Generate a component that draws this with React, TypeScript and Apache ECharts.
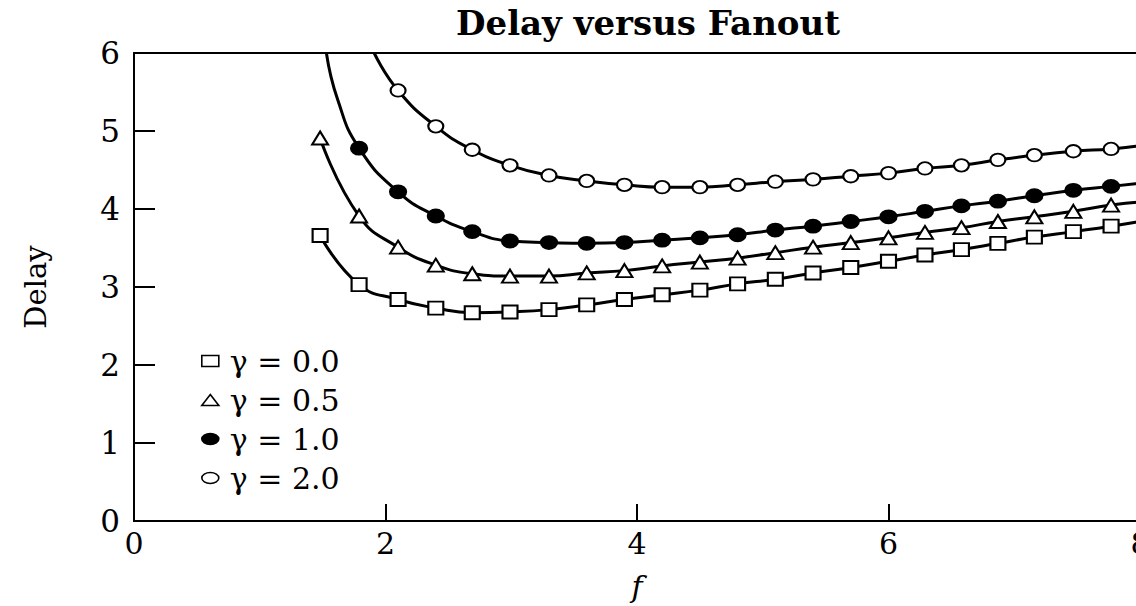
import React, { useEffect, useRef } from "react";
import * as echarts from "echarts";

// Fanout values at which the markers are drawn
const F = [
  1.48, 1.79, 2.1, 2.4, 2.69, 2.99, 3.3, 3.6, 3.9, 4.2, 4.5,
  4.8, 5.1, 5.4, 5.7, 6.0, 6.29, 6.58, 6.87, 7.16, 7.47, 7.77,
];

// Delay for each gamma (null = no marker at that fanout)
const DELAY_G00 = [
  3.66, 3.03, 2.84, 2.73, 2.67, 2.68, 2.71, 2.77, 2.84, 2.9, 2.96,
  3.04, 3.1, 3.18, 3.25, 3.33, 3.41, 3.48, 3.56, 3.64, 3.71, 3.78,
];
const DELAY_G05 = [
  4.91, 3.91, 3.51, 3.28, 3.17, 3.14, 3.14, 3.18, 3.21, 3.27, 3.32,
  3.37, 3.44, 3.51, 3.57, 3.63, 3.7, 3.76, 3.84, 3.9, 3.97, 4.05,
];
const DELAY_G10 = [
  null, 4.78, 4.22, 3.91, 3.71, 3.59, 3.57, 3.56, 3.57, 3.6, 3.63,
  3.67, 3.73, 3.78, 3.84, 3.9, 3.97, 4.04, 4.1, 4.17, 4.24, 4.29,
];
const DELAY_G20 = [
  null, null, 5.52, 5.06, 4.76, 4.56, 4.43, 4.36, 4.31, 4.28, 4.28,
  4.31, 4.35, 4.38, 4.42, 4.46, 4.52, 4.56, 4.63, 4.69, 4.74, 4.77,
];

// Curve-only points (no marker): where the curves leave the top frame and the right edge
const CURVE_START_G00: number[][] = [];
const CURVE_START_G05: number[][] = [];
const CURVE_START_G10 = [
  [1.53, 6.0],
  [1.62, 5.4],
];
const CURVE_START_G20 = [[1.91, 6.0]];
const CURVE_END_F = 8.0;
const CURVE_END_DELAY = [3.84, 4.09, 4.33, 4.81];

const SERIES_NAMES = ["γ = 0.0", "γ = 0.5", "γ = 1.0", "γ = 2.0"];

const TITLE = "Delay versus Fanout";
const X_NAME = "f";
const Y_NAME = "Delay";

const FONT = "DejaVu Serif";
const ELLIPSE = "path://M0,6A8,6,0,1,0,16,6A8,6,0,1,0,0,6Z";

// The figure is cropped on the right: the drawing area is wider than the window
const CANVAS_W = 1170;
const CANVAS_H = 606;

export default function App() {
  const ref = useRef<HTMLDivElement>(null);

  useEffect(() => {
    if (!ref.current) return;
    const chart = echarts.init(ref.current, undefined, { renderer: "svg" });

    const delays = [DELAY_G00, DELAY_G05, DELAY_G10, DELAY_G20];
    const starts = [CURVE_START_G00, CURVE_START_G05, CURVE_START_G10, CURVE_START_G20];
    const symbols = ["rect", "triangle", ELLIPSE, ELLIPSE];
    const sizes = [
      [15, 13],
      [16, 13],
      [16, 13],
      [15, 12.5],
    ];
    const fills = ["#fff", "#fff", "#000", "#fff"];
    const legendIcons = ["rect", "triangle", ELLIPSE, ELLIPSE];

    const series: any[] = [];
    delays.forEach((arr, i) => {
      const markers = F.map((f, k) => [f, arr[k]]).filter((p) => p[1] !== null);
      const curve = [...starts[i], ...markers, [CURVE_END_F, CURVE_END_DELAY[i]]];
      series.push({
        type: "line",
        name: "curve" + i,
        data: curve,
        smooth: 0.5,
        showSymbol: false,
        symbol: "none",
        silent: true,
        lineStyle: { color: "#000", width: 3 },
        z: 2,
      });
      series.push({
        type: "scatter",
        name: SERIES_NAMES[i],
        data: markers,
        symbol: symbols[i],
        symbolSize: sizes[i],
        symbolKeepAspect: false,
        silent: true,
        itemStyle: {
          color: fills[i],
          borderColor: "#000",
          borderWidth: 2,
          opacity: 1,
        },
        z: 3,
      });
    });

    chart.setOption({
      animation: false,
      backgroundColor: "#fff",
      title: {
        text: TITLE,
        left: 648,
        top: 6,
        padding: 0,
        textAlign: "center",
        textStyle: {
          fontFamily: FONT,
          fontWeight: "bold",
          fontSize: 34,
          color: "#000",
        },
      },
      legend: {
        orient: "vertical",
        left: 196,
        top: 341,
        itemWidth: 17,
        itemHeight: 11,
        itemGap: 9,
        symbolKeepAspect: false,
        selectedMode: false,
        itemStyle: { borderColor: "#000", borderWidth: 1.6 },
        textStyle: {
          fontFamily: FONT,
          fontSize: 30,
          lineHeight: 30,
          color: "#000",
          padding: [0, 0, 0, 6],
        },
        data: SERIES_NAMES.map((n, i) => ({ name: n, icon: legendIcons[i] })),
      },
      grid: {
        left: 134,
        right: CANVAS_W - 1140,
        top: 53,
        bottom: CANVAS_H - 523,
        show: true,
        borderColor: "#000",
        borderWidth: 2,
        backgroundColor: "transparent",
      },
      xAxis: {
        type: "value",
        min: 0,
        max: 8,
        interval: 2,
        name: X_NAME,
        nameLocation: "middle",
        nameGap: 50,
        nameTextStyle: {
          fontFamily: FONT,
          fontStyle: "italic",
          fontSize: 30,
          color: "#000",
        },
        axisLine: { show: true, lineStyle: { color: "#000", width: 2 } },
        axisTick: { show: true, inside: true, length: 17, lineStyle: { color: "#000", width: 2 } },
        axisLabel: { color: "#000", fontFamily: FONT, fontSize: 30, margin: 7 },
        splitLine: { show: false },
      },
      yAxis: {
        type: "value",
        min: 0,
        max: 6,
        interval: 1,
        name: Y_NAME,
        nameLocation: "middle",
        nameGap: 84,
        nameRotate: 90,
        nameTextStyle: { fontFamily: FONT, fontSize: 29, color: "#000" },
        axisLine: { show: true, lineStyle: { color: "#000", width: 2 } },
        axisTick: { show: true, inside: true, length: 21, lineStyle: { color: "#000", width: 2 } },
        axisLabel: { color: "#000", fontFamily: FONT, fontSize: 31, margin: 14 },
        splitLine: { show: false },
      },
      series,
    });

    return () => chart.dispose();
  }, []);

  return (
    <div
      ref={ref}
      style={{
        position: "fixed",
        left: 0,
        top: 0,
        width: CANVAS_W,
        height: CANVAS_H,
        background: "#fff",
      }}
    />
  );
}
